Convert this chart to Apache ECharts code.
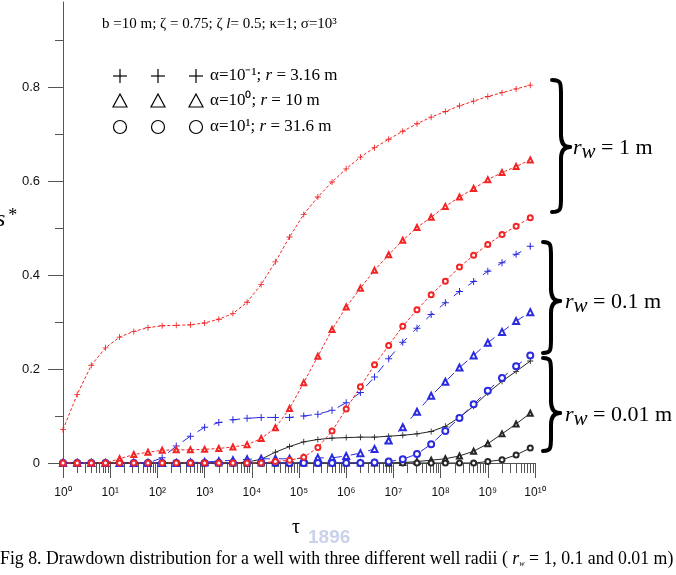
<!DOCTYPE html>
<html>
<head>
<meta charset="utf-8">
<script src="https://cdn.jsdelivr.net/npm/echarts@6/dist/echarts.min.js"></script>
<style>
  html, body { margin: 0; padding: 0; background: #fff; }
  #chart { width: 676px; height: 575px; }
</style>
</head>
<body>
<div id="chart"></div>
<script>
// tau sampled at 10^(0.3 n), n = 0..33
var tau = [1, 2, 3.98, 7.94, 15.8, 31.6, 63.1, 126, 251, 501,
  1000, 2000, 3980, 7940, 15800, 31600, 63100, 126000, 251000, 501000,
  1e6, 2e6, 3.98e6, 7.94e6, 1.58e7, 3.16e7, 6.31e7, 1.26e8, 2.51e8, 5.01e8,
  1e9, 2e9, 3.98e9, 7.94e9];

// rw = 1 m (red)
var redPlus = [0.071, 0.146, 0.208, 0.245, 0.268, 0.280, 0.288, 0.292, 0.293, 0.294,
  0.298, 0.306, 0.318, 0.342, 0.380, 0.428, 0.481, 0.529, 0.566, 0.598,
  0.626, 0.651, 0.671, 0.689, 0.706, 0.722, 0.736, 0.748, 0.760, 0.770,
  0.780, 0.788, 0.796, 0.804];
var redTri = [0, 0, 0, 0, 0.009, 0.018, 0.023, 0.027, 0.028, 0.028,
  0.029, 0.031, 0.034, 0.039, 0.052, 0.075, 0.116, 0.171, 0.227, 0.284,
  0.332, 0.372, 0.410, 0.443, 0.474, 0.501, 0.523, 0.546, 0.566, 0.584,
  0.603, 0.618, 0.631, 0.645];
var redCirc = [0, 0, 0, 0, 0, 0, 0, 0, 0, 0,
  0, 0, 0, 0, 0, 0.003, 0.006, 0.012, 0.033, 0.068,
  0.115, 0.162, 0.209, 0.250, 0.291, 0.326, 0.358, 0.387, 0.417, 0.442,
  0.465, 0.486, 0.504, 0.522];

// rw = 0.1 m (blue)
var bluePlus = [0, 0, 0, 0, 0, 0, 0, 0.011, 0.036, 0.057,
  0.076, 0.086, 0.092, 0.095, 0.097, 0.097, 0.097, 0.100, 0.104, 0.112,
  0.128, 0.150, 0.183, 0.222, 0.257, 0.287, 0.316, 0.341, 0.365, 0.386,
  0.408, 0.426, 0.444, 0.461];
var blueTri = [0, 0, 0, 0, 0, 0, 0, 0, 0, 0.001,
  0.002, 0.004, 0.006, 0.008, 0.009, 0.009, 0.009, 0.010, 0.011, 0.011,
  0.015, 0.021, 0.030, 0.048, 0.076, 0.109, 0.143, 0.173, 0.203, 0.229,
  0.256, 0.279, 0.302, 0.321];
var blueCirc = [0, 0, 0, 0, 0, 0, 0, 0, 0, 0,
  0, 0, 0, 0, 0, 0, 0, 0, 0, 0,
  0, 0, 0.001, 0.003, 0.008, 0.019, 0.040, 0.068, 0.096, 0.125,
  0.154, 0.181, 0.206, 0.229];

// rw = 0.01 m (black)
var blackPlus = [0, 0, 0, 0, 0, 0, 0, 0, 0, 0,
  0, 0, 0, 0.002, 0.008, 0.023, 0.035, 0.045, 0.050, 0.053,
  0.054, 0.055, 0.055, 0.057, 0.059, 0.062, 0.067, 0.078, 0.097, 0.121,
  0.149, 0.174, 0.195, 0.217];
var blackTri = [0, 0, 0, 0, 0, 0, 0, 0, 0, 0,
  0, 0, 0, 0, 0, 0, 0, 0, 0, 0,
  0, 0, 0, 0, 0.001, 0.003, 0.006, 0.009, 0.015, 0.025,
  0.041, 0.062, 0.083, 0.106];
var blackCirc = [0, 0, 0, 0, 0, 0, 0, 0, 0, 0,
  0, 0, 0, 0, 0, 0, 0, 0, 0, 0,
  0, 0, 0, 0, 0, 0, 0, 0, 0, 0,
  0.003, 0.007, 0.017, 0.032];

var yMajor = [0, 0.2, 0.4, 0.6, 0.8];
var yMinor = [0.1, 0.3, 0.5, 0.7, 0.9];
var decades = [0, 1, 2, 3, 4, 5, 6, 7, 8, 9, 10];

var SERIF = '"Liberation Serif", "Times New Roman", serif';
var SANS = '"Liberation Sans", Arial, sans-serif';
var RED = '#f22424', BLUE = '#2a2ae0', BLACK = '#262626';
var PLUS = 'path://M0,3H7V4H0ZM3,0H4V7H3Z';

var supMap = { '0': '\u2070', '1': '\u00b9', '2': '\u00b2', '3': '\u00b3', '4': '\u2074',
  '5': '\u2075', '6': '\u2076', '7': '\u2077', '8': '\u2078', '9': '\u2079', '-': '\u207b' };
function sup(s) {
  return String(s).split('').map(function (c) { return supMap[c] || c; }).join('');
}

// minor ticks 2..9 of each decade, in log10 units for the helper axis
var minorLog = [];
decades.slice(0, 10).forEach(function (d) {
  for (var k = 2; k <= 9; k++) minorLog.push(d + Math.log10(k));
});

function pairs(vals) {
  return vals.map(function (v, i) { return [tau[i], v]; });
}

function mk(name, vals, color, symbol, size, lineType) {
  return {
    name: name,
    type: 'line',
    xAxisIndex: 0,
    data: pairs(vals),
    symbol: symbol,
    symbolSize: size,
    showSymbol: true,
    showAllSymbol: true,
    animation: false,
    lineStyle: { color: color, width: 1, type: lineType },
    itemStyle: { color: color, borderColor: color, borderWidth: symbol === PLUS ? 0 : 1 },
    emphasis: { disabled: true }
  };
}

function brace(xh, xs, xt, y1, ym, y2) {
  var st = { stroke: '#000', lineWidth: 4, fill: null, lineCap: 'round' };
  return [
    { type: 'bezierCurve', shape: { x1: xh, y1: y1, cpx1: xs, cpy1: y1, cpx2: xs, cpy2: y1 + 3, x2: xs, y2: y1 + 14 }, style: st },
    { type: 'line', shape: { x1: xs, y1: y1 + 14, x2: xs, y2: ym - 12 }, style: st },
    { type: 'bezierCurve', shape: { x1: xs, y1: ym - 12, cpx1: xs, cpy1: ym - 3, cpx2: xt - 5, cpy2: ym, x2: xt, y2: ym }, style: st },
    { type: 'bezierCurve', shape: { x1: xt, y1: ym, cpx1: xt - 5, cpy1: ym, cpx2: xs, cpy2: ym + 3, x2: xs, y2: ym + 12 }, style: st },
    { type: 'line', shape: { x1: xs, y1: ym + 12, x2: xs, y2: y2 - 14 }, style: st },
    { type: 'bezierCurve', shape: { x1: xs, y1: y2 - 14, cpx1: xs, cpy1: y2 - 3, cpx2: xs, cpy2: y2, x2: xh, y2: y2 }, style: st }
  ];
}

function txt(x, y, text, size, rich, extra) {
  var s = { text: text, x: 0, y: 0, font: size + 'px ' + SERIF, fill: '#000', verticalAlign: 'middle', rich: rich || {} };
  if (extra) for (var k in extra) s[k] = extra[k];
  return { type: 'text', x: x, y: y, style: s };
}

var rwRich = {
  i: { fontFamily: SERIF, fontStyle: 'italic', fontSize: 22 },
  w: { fontFamily: SERIF, fontStyle: 'italic', fontSize: 21, padding: [8, 0, 0, 0] }
};
var legRich = { i: { fontFamily: SERIF, fontStyle: 'italic', fontSize: 17 } };
var topRich = { i: { fontFamily: SERIF, fontStyle: 'italic', fontSize: 15 } };

var legendMarks = [];
[120, 158, 196].forEach(function (cx) {
  var ms = { stroke: '#000', lineWidth: 1.2, fill: null };
  legendMarks.push({ type: 'line', shape: { x1: cx - 7, y1: 76, x2: cx + 7, y2: 76 }, style: ms });
  legendMarks.push({ type: 'line', shape: { x1: cx, y1: 69, x2: cx, y2: 83 }, style: ms });
  legendMarks.push({ type: 'polygon', shape: { points: [[cx, 94], [cx + 7, 107], [cx - 7, 107]] }, style: ms });
  legendMarks.push({ type: 'circle', shape: { cx: cx, cy: 127, r: 6.5 }, style: ms });
});

var chart = echarts.init(document.getElementById('chart'), null, { renderer: 'canvas' });
chart.setOption({
  backgroundColor: '#fff',
  animation: false,
  grid: { left: 63, right: 141, top: 2, bottom: 112, containLabel: false },
  xAxis: [{
    // data axis
    type: 'log',
    logBase: 10,
    min: 1,
    max: 1e10,
    axisLine: { show: true, lineStyle: { color: '#555', width: 1 } },
    axisTick: { show: false },
    axisLabel: { show: false },
    splitLine: { show: false }
  }, {
    // decade ticks and labels (log10 tau)
    type: 'value',
    min: 0,
    max: 10,
    interval: 1,
    position: 'bottom',
    axisLine: { show: false },
    axisTick: { show: true, inside: false, length: 15, lineStyle: { color: '#555' } },
    axisLabel: {
      margin: 24,
      fontFamily: SANS,
      fontSize: 12,
      color: '#111',
      formatter: function (v) { return '10' + sup(Math.round(v)); }
    },
    splitLine: { show: false }
  }, {
    // minor ticks 2..9
    type: 'value',
    min: 0,
    max: 10,
    position: 'bottom',
    axisLine: { show: false },
    axisTick: { show: true, inside: false, length: 10, customValues: minorLog, lineStyle: { color: '#555' } },
    axisLabel: { show: false },
    splitLine: { show: false }
  }],
  yAxis: [{
    type: 'value',
    min: 0,
    max: 0.981,
    position: 'left',
    axisLine: { show: true, lineStyle: { color: '#555', width: 1 } },
    axisTick: { show: true, inside: false, length: 15, customValues: yMajor, lineStyle: { color: '#555' } },
    axisLabel: {
      customValues: yMajor,
      margin: 23,
      fontFamily: SANS,
      fontSize: 13,
      color: '#111',
      formatter: function (v) { return v === 0 ? '0' : v.toFixed(1); }
    },
    splitLine: { show: false }
  }, {
    type: 'value',
    min: 0,
    max: 0.981,
    position: 'left',
    offset: 0,
    axisLine: { show: false },
    axisTick: { show: true, inside: false, length: 8, customValues: yMinor, lineStyle: { color: '#555' } },
    axisLabel: { show: false },
    splitLine: { show: false }
  }],
  series: [
    mk('black +', blackPlus, BLACK, PLUS, 6, 'solid'),
    mk('black tri', blackTri, BLACK, 'emptyTriangle', 5, 'solid'),
    mk('black circ', blackCirc, BLACK, 'emptyCircle', 5, 'solid'),
    mk('blue +', bluePlus, BLUE, PLUS, 7, [9, 9]),
    mk('blue tri', blueTri, BLUE, 'emptyTriangle', 6, [9, 9]),
    mk('blue circ', blueCirc, BLUE, 'emptyCircle', 6, [9, 9]),
    mk('red +', redPlus, RED, PLUS, 6, [3, 2]),
    mk('red tri', redTri, RED, 'emptyTriangle', 5, [3, 2]),
    mk('red circ', redCirc, RED, 'emptyCircle', 5, [3, 2])
  ],
  graphic: [].concat(
    [
      txt(102, 24, 'b =10 m; \u03b6 = 0.75; \u03b6 {i|l}= 0.5; \u03ba=1; \u03c3=10' + sup(3), 15, topRich),
      txt(210, 76, '\u03b1=10' + sup(-1) + '; {i|r} = 3.16 m', 17, legRich),
      txt(210, 101, '\u03b1=10' + sup(0) + '; {i|r} = 10 m', 17, legRich),
      txt(210, 127, '\u03b1=10' + sup(1) + '; {i|r} = 31.6 m', 17, legRich),
      txt(-4, 220, '{i|s}{a|*}', 22, { i: { fontFamily: SERIF, fontStyle: 'italic', fontSize: 24 }, a: { fontFamily: SERIF, fontSize: 18, padding: [0, 0, 8, 3] } }),
      txt(292, 528, '\u03c4', 20),
      txt(308, 538, '1896', 19, null, { font: 'bold 19px ' + SANS, fill: '#c9d2ea' }),
      txt(0, 559, 'Fig 8. Drawdown distribution for a well with three different well radii ( {i|r}{s|w} = 1, 0.1 and 0.01 m)', 17.8,
        { i: { fontFamily: SERIF, fontStyle: 'italic', fontSize: 17.8 }, s: { fontFamily: SERIF, fontStyle: 'italic', fontSize: 8, padding: [9, 0, 0, 0] } }),
      txt(573, 148, '{i|r}{w|w} = 1 m', 22, rwRich),
      txt(565, 302, '{i|r}{w|w} = 0.1 m', 22, rwRich),
      txt(565, 415, '{i|r}{w|w} = 0.01 m', 22, rwRich)
    ],
    legendMarks,
    brace(552, 561, 570, 80, 147, 212),
    brace(543, 551, 560, 242, 301, 353),
    brace(543, 551, 560, 358, 413, 451)
  )
});
</script>
</body>
</html>
